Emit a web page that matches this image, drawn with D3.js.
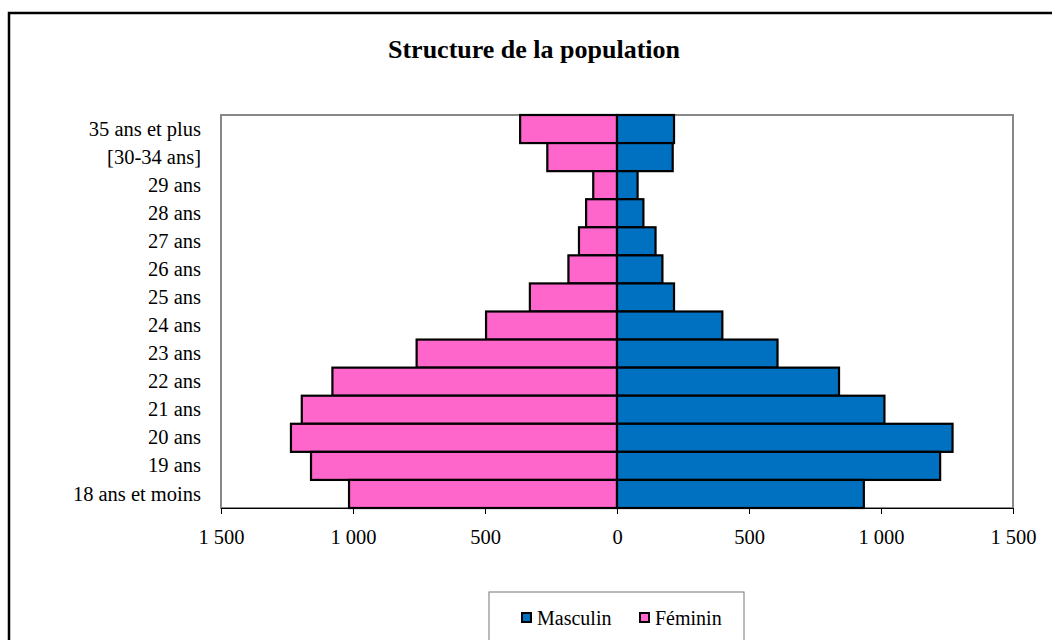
<!DOCTYPE html>
<html>
<head>
<meta charset="utf-8">
<script src="https://cdn.jsdelivr.net/npm/d3@7"></script>
<style>
  body { margin: 0; background: #fff; }
  text { font-family: "Liberation Serif", "DejaVu Serif", serif; fill: #000; }
</style>
</head>
<body>
<script>
const width = 1052;
const height = 640;
const margin = {top: 115, left: 221, bottom: 132, right: 39};

// categories from top to bottom
const ages = ['35 ans et plus', '[30-34 ans]', '29 ans', '28 ans', '27 ans', '26 ans', '25 ans',
  '24 ans', '23 ans', '22 ans', '21 ans', '20 ans', '19 ans', '18 ans et moins'];
const masculin = [216, 211, 78, 100, 146, 172, 216, 399, 608, 841, 1013, 1271, 1224, 935];
const feminin = [367, 264, 90, 117, 144, 184, 330, 496, 759, 1078, 1194, 1235, 1159, 1015];
const ticks = [-1500, -1000, -500, 0, 500, 1000, 1500];

const blue = '#0070C0';
const pink = '#FF66CC';

const svg = d3.select('body').append('svg')
  .attr('width', width).attr('height', height);

// outer frame of the chart
svg.append('rect')
  .attr('x', 9).attr('y', 13).attr('width', 1060).attr('height', 660)
  .attr('fill', 'none').attr('stroke', '#000').attr('stroke-width', 2.5);

svg.append('text')
  .attr('x', 534).attr('y', 58)
  .attr('text-anchor', 'middle')
  .style('font-size', '26px').style('font-weight', 'bold')
  .text('Structure de la population');

const x = d3.scaleLinear()
  .domain([-1500, 1500])
  .range([margin.left, width - margin.right]);

const y = d3.scaleBand()
  .domain(ages)
  .range([margin.top, height - margin.bottom])
  .padding(0);

// plot area
svg.append('rect')
  .attr('x', x(-1500)).attr('y', margin.top)
  .attr('width', x(1500) - x(-1500)).attr('height', y.range()[1] - margin.top)
  .attr('fill', 'none').attr('stroke', '#888').attr('stroke-width', 2);

const fmt = v => d3.format(',')(Math.abs(v)).replace(/,/g, '\u00a0');

svg.append('g')
  .attr('transform', `translate(0, ${height - margin.bottom})`)
  .call(d3.axisBottom(x).tickValues(ticks).tickFormat(fmt).tickSize(6).tickPadding(15).tickSizeOuter(0))
  .call(g => g.select('.domain').attr('stroke', '#000').attr('stroke-width', 1))
  .call(g => g.selectAll('.tick line').attr('stroke', '#000'))
  .call(g => g.selectAll('.tick text').style('font-size', '20.5px').style('font-family', '"Liberation Serif", serif'));

svg.append('g')
  .attr('transform', `translate(${margin.left}, 0)`)
  .call(d3.axisLeft(y).tickSize(0).tickPadding(20))
  .call(g => g.select('.domain').remove())
  .call(g => g.selectAll('.tick text').style('font-size', '20.5px').style('font-family', '"Liberation Serif", serif'));

svg.append('g')
  .attr('fill', pink).attr('stroke', '#000').attr('stroke-width', 2.2)
  .selectAll('rect').data(feminin).enter().append('rect')
  .attr('x', d => x(-d))
  .attr('y', (d, i) => y(ages[i]))
  .attr('width', d => x(0) - x(-d))
  .attr('height', y.bandwidth());

svg.append('g')
  .attr('fill', blue).attr('stroke', '#000').attr('stroke-width', 2.2)
  .selectAll('rect').data(masculin).enter().append('rect')
  .attr('x', x(0))
  .attr('y', (d, i) => y(ages[i]))
  .attr('width', d => x(d) - x(0))
  .attr('height', y.bandwidth());

// legend
const legend = svg.append('g').attr('transform', 'translate(489, 592)');
legend.append('rect')
  .attr('width', 255).attr('height', 70)
  .attr('fill', '#fff').attr('stroke', '#777').attr('stroke-width', 1);
const items = [{name: 'Masculin', color: blue, x: 33}, {name: 'Féminin', color: pink, x: 151}];
const li = legend.selectAll('g.item').data(items).enter().append('g')
  .attr('transform', d => `translate(${d.x}, 0)`);
li.append('rect')
  .attr('x', 0).attr('y', 21).attr('width', 9).attr('height', 9)
  .attr('fill', d => d.color).attr('stroke', '#000').attr('stroke-width', 2);
li.append('text')
  .attr('x', 15).attr('y', 33)
  .style('font-size', '20px')
  .text(d => d.name);
</script>
</body>
</html>
